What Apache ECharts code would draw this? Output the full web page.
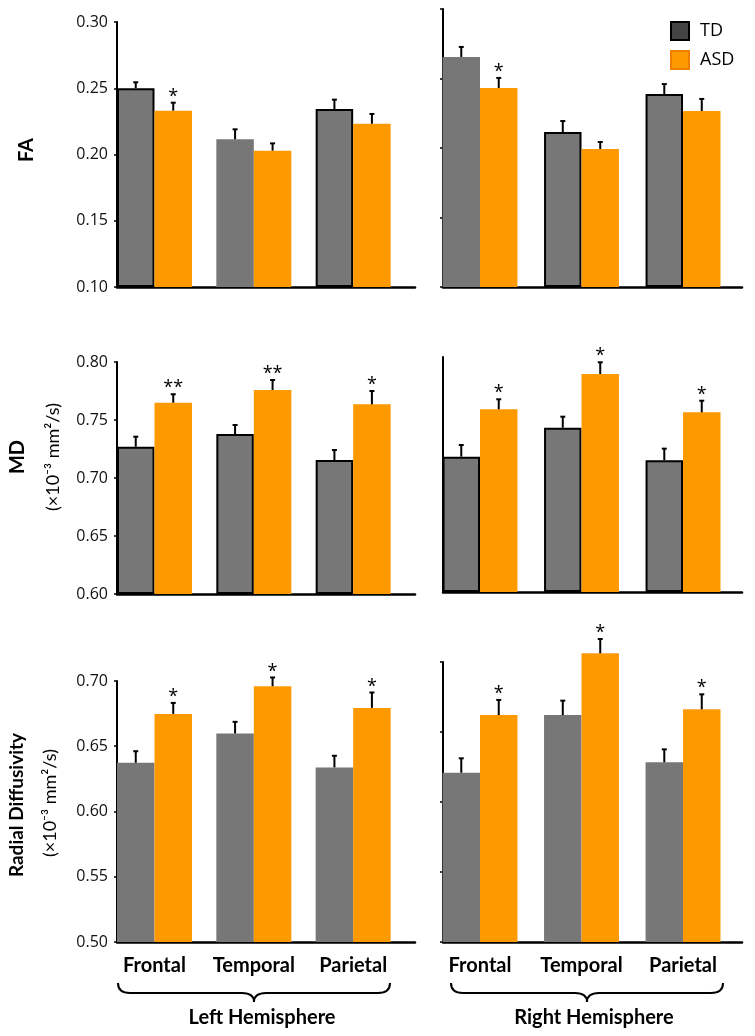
<!DOCTYPE html>
<html><head><meta charset="utf-8">
<script src="https://cdn.jsdelivr.net/npm/echarts@6/dist/echarts.min.js"></script>
<style>html,body{margin:0;padding:0;background:#fff}#c{width:755px;height:1036px}</style>
</head><body><div id="c"></div>
<script>
// ---------- data ----------
const categories = ['Frontal', 'Temporal', 'Parietal'];
const xPos = [0, 1, 2];

const faTicks = [0.10, 0.15, 0.20, 0.25, 0.30];
const mdTicks = [0.60, 0.65, 0.70, 0.75, 0.80];
const rdTicks = [0.50, 0.55, 0.60, 0.65, 0.70];

// FA
const faLeftTD = [0.250, 0.2115, 0.2343];
const faLeftTDUpper = [0.2545, 0.219, 0.2414];
const faLeftASD = [0.2331, 0.2029, 0.2232];
const faLeftASDUpper = [0.2391, 0.2084, 0.2306];
const faLeftStars = ['*', '', ''];
const faRightTD = [0.2655, 0.2115, 0.2388];
const faRightTDUpper = [0.2727, 0.2194, 0.246];
const faRightASD = [0.2432, 0.1993, 0.2266];
const faRightASDUpper = [0.2504, 0.2043, 0.2353];
const faRightStars = ['*', '', ''];
// MD
const mdLeftTD = [0.727, 0.7379, 0.7155];
const mdLeftTDUpper = [0.7356, 0.7457, 0.7241];
const mdLeftASD = [0.7649, 0.7759, 0.7635];
const mdLeftASDUpper = [0.7722, 0.7845, 0.775];
const mdLeftStars = ['**', '**', '*'];
const mdRightTD = [0.7152, 0.7398, 0.7121];
const mdRightTDUpper = [0.7251, 0.7492, 0.722];
const mdRightASD = [0.7555, 0.7855, 0.7529];
const mdRightASDUpper = [0.764, 0.7955, 0.7628];
const mdRightStars = ['*', '*', '*'];
// RD
const rdLeftTD = [0.6373, 0.6598, 0.6338];
const rdLeftTDUpper = [0.6462, 0.6687, 0.6427];
const rdLeftASD = [0.6748, 0.696, 0.6794];
const rdLeftASDUpper = [0.6832, 0.7027, 0.6912];
const rdLeftStars = ['*', '*', '*'];
const rdRightTD = [0.6209, 0.6621, 0.6284];
const rdRightTDUpper = [0.6312, 0.6724, 0.6376];
const rdRightASD = [0.6621, 0.7062, 0.6662];
const rdRightASDUpper = [0.6729, 0.7164, 0.6769];
const rdRightStars = ['*', '*', '*'];

// ---------- layout / style ----------
const sideL = { xMin: -0.3775, xMax: 2.6225, frac: 0.3775 };
const sideR = { xMin: -0.3645, xMax: 2.581, frac: 0.369 };

const panels = [
  { td: faLeftTD, tdUp: faLeftTDUpper, asd: faLeftASD, asdUp: faLeftASDUpper, stars: faLeftStars, ticks: faTicks,
    side: sideL, grid: { left: 117, top: 22, width: 298, height: 265 }, labels: true, tick: true, outline: [1, 0, 1], bottom: false },
  { td: faRightTD, tdUp: faRightTDUpper, asd: faRightASD, asdUp: faRightASDUpper, stars: faRightStars, ticks: faTicks,
    side: sideR, grid: { left: 443, top: 9, width: 299, height: 278 }, labels: false, tick: true, outline: [0, 1, 1], bottom: false },
  { td: mdLeftTD, tdUp: mdLeftTDUpper, asd: mdLeftASD, asdUp: mdLeftASDUpper, stars: mdLeftStars, ticks: mdTicks,
    side: sideL, grid: { left: 117, top: 362, width: 298, height: 232 }, labels: true, tick: true, outline: [1, 1, 1], bottom: false },
  { td: mdRightTD, tdUp: mdRightTDUpper, asd: mdRightASD, asdUp: mdRightASDUpper, stars: mdRightStars, ticks: mdTicks,
    side: sideR, grid: { left: 443, top: 357, width: 299, height: 235 }, labels: false, tick: false, outline: [1, 1, 1], bottom: false },
  { td: rdLeftTD, tdUp: rdLeftTDUpper, asd: rdLeftASD, asdUp: rdLeftASDUpper, stars: rdLeftStars, ticks: rdTicks,
    side: sideL, grid: { left: 117, top: 681, width: 298, height: 261 }, labels: true, tick: true, outline: [0, 0, 0], bottom: true },
  { td: rdRightTD, tdUp: rdRightTDUpper, asd: rdRightASD, asdUp: rdRightASDUpper, stars: rdRightStars, ticks: rdTicks,
    side: sideR, grid: { left: 443, top: 662, width: 299, height: 280 }, labels: false, tick: true, outline: [0, 0, 0], bottom: true }
];

const TD_COLOR = '#777777';
const ASD_COLOR = '#ff9900';
const NUM_FONT = 'Open Sans';
const BOLD_FONT = 'Lato';

const grids = [], xAxes = [], yAxes = [], series = [];

function errSeries(i, means, uppers, stars, sign, frac) {
  return {
    type: 'custom', xAxisIndex: i, yAxisIndex: i, silent: true, z: 10, clip: false,
    data: xPos.map((x, k) => [x, means[k], uppers[k]]),
    encode: { x: 0, y: [1, 2] },
    renderItem(params, api) {
      const x = api.value(0);
      const bw = api.size([frac, 0])[0];
      const base = api.coord([x, api.value(1)]);
      const top = api.coord([x, api.value(2)]);
      const cx = base[0] + sign * bw / 2;
      const children = [
        { type: 'line', shape: { x1: cx, y1: base[1], x2: cx, y2: top[1] }, style: { stroke: '#000', lineWidth: 2 } },
        { type: 'line', shape: { x1: cx - 2.5, y1: top[1], x2: cx + 2.5, y2: top[1] }, style: { stroke: '#000', lineWidth: 2 } }
      ];
      const s = stars ? stars[params.dataIndex] : '';
      if (s) {
        children.push({ type: 'text', style: { text: s, x: cx, y: top[1] + 3, align: 'center', verticalAlign: 'bottom',
          font: '18px "' + NUM_FONT + '"', fill: '#000' } });
      }
      return { type: 'group', children };
    }
  };
}

panels.forEach((p, i) => {
  grids.push(Object.assign({ containLabel: false }, p.grid));
  const yMin = p.ticks[0], yMax = p.ticks[p.ticks.length - 1];
  xAxes.push({
    type: 'value', gridIndex: i, min: p.side.xMin, max: p.side.xMax,
    splitLine: { show: false }, axisTick: { show: false },
    axisLine: { show: true, onZero: false, lineStyle: { color: '#000', width: 2.5 } },
    axisLabel: p.bottom ? {
      show: true, customValues: xPos, formatter: v => categories[Math.round(v)] || '',
      fontFamily: BOLD_FONT, fontWeight: 'bold', fontSize: 20, color: '#000', margin: 14
    } : { show: false }
  });
  yAxes.push({
    type: 'value', gridIndex: i, min: yMin, max: yMax, interval: 0.05, startValue: yMin,
    splitLine: { show: false },
    axisLine: { show: true, onZero: false, lineStyle: { color: '#000', width: 2 } },
    axisTick: { show: p.tick, length: 3, lineStyle: { color: '#000', width: 1.5 } },
    axisLabel: { show: p.labels, formatter: v => v.toFixed(2), fontFamily: NUM_FONT, fontSize: 16, color: '#111', margin: 9,
      showMinLabel: true, showMaxLabel: true }
  });
  const bw = (p.side.frac * 100).toFixed(2) + '%';
  series.push({
    name: 'TD', type: 'bar', xAxisIndex: i, yAxisIndex: i, barWidth: bw, barGap: '0%', clip: false,
    itemStyle: { color: TD_COLOR },
    data: xPos.map((x, k) => ({ value: [x, p.td[k]],
      itemStyle: p.outline[k] ? { borderColor: '#000', borderWidth: 2 } : { borderWidth: 0 } }))
  });
  series.push({
    name: 'ASD', type: 'bar', xAxisIndex: i, yAxisIndex: i, barWidth: bw, barGap: '0%', clip: false,
    itemStyle: { color: ASD_COLOR },
    data: xPos.map((x, k) => [x, p.asd[k]])
  });
  series.push(errSeries(i, p.td, p.tdUp, null, -1, p.side.frac));
  series.push(errSeries(i, p.asd, p.asdUp, p.stars, 1, p.side.frac));
});

function brace(x1, x2, tip, yTop, yMid, yTip) {
  const r = 12;
  const st = { stroke: '#000', lineWidth: 2, fill: null };
  const q = (ax, ay, cx, cy, bx, by) => ({ type: 'bezierCurve', silent: true,
    shape: { x1: ax, y1: ay, x2: bx, y2: by, cpx1: cx, cpy1: cy }, style: st });
  const l = (ax, ay, bx, by) => ({ type: 'line', silent: true, shape: { x1: ax, y1: ay, x2: bx, y2: by }, style: st });
  return { type: 'group', silent: true, children: [
    q(x1, yTop, x1, yMid, x1 + r, yMid),
    l(x1 + r, yMid, tip - r, yMid),
    q(tip - r, yMid, tip, yMid, tip, yTip),
    q(tip, yTip, tip, yMid, tip + r, yMid),
    l(tip + r, yMid, x2 - r, yMid),
    q(x2 - r, yMid, x2, yMid, x2, yTop)
  ] };
}
function vtext(text, x, y, font) {
  return { type: 'text', x: x, y: y, rotation: Math.PI / 2, silent: true,
    style: { text: text, align: 'center', verticalAlign: 'middle', font: font, fill: '#000' } };
}
const unitText = '(\u00d710\u207b\u00b3 mm\u00b2/s)';

const graphic = [
  vtext('FA', 27, 150, 'bold 20px "' + BOLD_FONT + '"'),
  vtext('MD', 18, 457, 'bold 20px "' + BOLD_FONT + '"'),
  vtext(unitText, 53, 457, '18px "' + BOLD_FONT + '"'),
  vtext('Radial Diffusivity', 17, 805, 'bold 19px "' + BOLD_FONT + '"'),
  vtext(unitText, 50, 803, '18px "' + BOLD_FONT + '"'),
  brace(118, 390, 254, 983, 993, 1002),
  brace(451, 723, 587, 983, 993, 1002),
  { type: 'text', x: 262, y: 1018, silent: true, style: { text: 'Left Hemisphere', align: 'center', verticalAlign: 'middle', font: 'bold 20px "' + BOLD_FONT + '"', fill: '#000' } },
  { type: 'text', x: 594, y: 1018, silent: true, style: { text: 'Right Hemisphere', align: 'center', verticalAlign: 'middle', font: 'bold 20px "' + BOLD_FONT + '"', fill: '#000' } }
];

const chart = echarts.init(document.getElementById('c'), null, { renderer: 'canvas' });
chart.setOption({
  animation: false,
  backgroundColor: '#fff',
  grid: grids, xAxis: xAxes, yAxis: yAxes, series: series,
  legend: {
    orient: 'vertical', left: 665, top: 16, itemWidth: 18, itemHeight: 18, itemGap: 9, selectedMode: false,
    icon: 'rect',
    textStyle: { fontFamily: NUM_FONT, fontSize: 18, color: '#000', padding: [0, 0, 0, 6] },
    data: [
      { name: 'TD', itemStyle: { color: '#444444', borderColor: '#000', borderWidth: 2 } },
      { name: 'ASD', itemStyle: { color: ASD_COLOR, borderColor: '#f07c00', borderWidth: 2 } }
    ]
  },
  graphic: graphic
});
</script></body></html>
